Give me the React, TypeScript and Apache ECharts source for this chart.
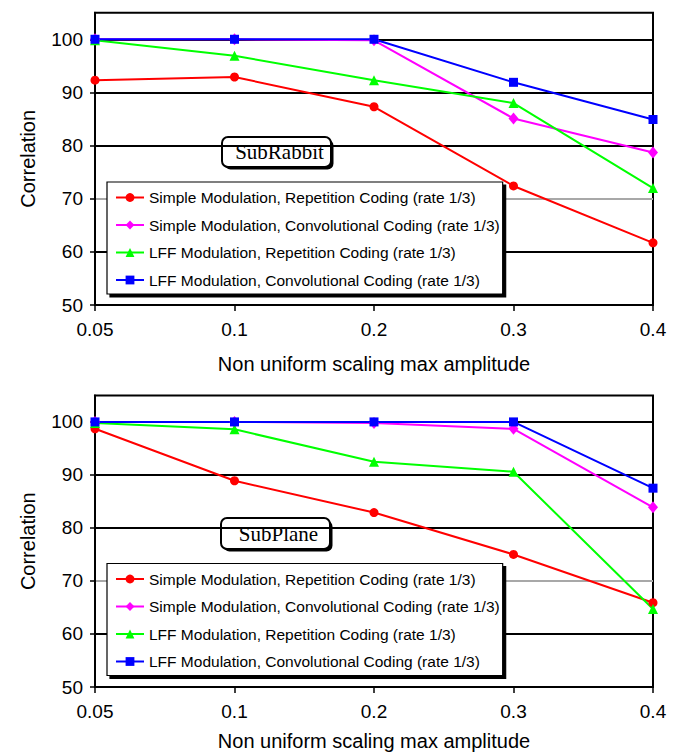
import React, { useEffect, useRef } from "react";
import * as echarts from "echarts";

const xCategories = ["0.05", "0.1", "0.2", "0.3", "0.4"];
const seriesNames = [
  "Simple Modulation, Repetition Coding (rate 1/3)",
  "Simple Modulation, Convolutional Coding (rate 1/3)",
  "LFF Modulation, Repetition Coding (rate 1/3)",
  "LFF Modulation, Convolutional Coding (rate 1/3)",
];
const yTickValues = [50, 60, 70, 80, 90, 100];

const rabbitSimpleRep = [92.3, 92.9, 87.3, 72.4, 61.7];
const rabbitSimpleConv = [100, 100, 99.8, 85.1, 78.7];
const rabbitLffRep = [99.8, 96.9, 92.3, 88.0, 72.0];
const rabbitLffConv = [100, 100, 100, 91.9, 84.9];

const planeSimpleRep = [98.7, 88.9, 82.9, 75.0, 65.9];
const planeSimpleConv = [100, 100, 99.8, 98.7, 83.9];
const planeLffRep = [99.8, 98.6, 92.5, 90.6, 64.7];
const planeLffConv = [100, 100, 100, 100, 87.5];

const colors = ["#ff0000", "#ff00ff", "#00ff00", "#0000ff"];
const symbols = ["circle", "diamond", "triangle", "rect"];
const symbolSizes = [9, [10, 12], 10, 9];

const SANS = "'Liberation Sans', Arial, sans-serif";
const SERIF = "'Liberation Serif', 'Times New Roman', serif";

function makeX(gridIndex: number, nameGap: number) {
  return {
    type: "category",
    gridIndex,
    data: xCategories,
    boundaryGap: false,
    name: "Non uniform scaling max amplitude",
    nameLocation: "middle",
    nameGap,
    nameTextStyle: { fontFamily: SANS, fontSize: 20, color: "#000" },
    axisLine: { show: true, lineStyle: { color: "#000", width: 2 } },
    axisTick: { show: true, length: 6, lineStyle: { color: "#000", width: 1.5 } },
    axisLabel: { fontFamily: SANS, fontSize: 19, color: "#000", margin: 15 },
    splitLine: { show: false },
  };
}

function makeY(gridIndex: number) {
  return {
    type: "value",
    gridIndex,
    min: 50,
    max: 105,
    interval: 10,
    name: "Correlation",
    nameLocation: "middle",
    nameRotate: 90,
    nameGap: 57,
    nameTextStyle: { fontFamily: SANS, fontSize: 20, color: "#000" },
    axisLine: { show: true, lineStyle: { color: "#000", width: 2 } },
    axisTick: {
      show: true,
      length: 5,
      customValues: yTickValues,
      lineStyle: { color: "#000", width: 1.5 },
    },
    axisLabel: {
      fontFamily: SANS,
      fontSize: 19,
      color: "#000",
      margin: 12,
      customValues: yTickValues,
    },
    splitLine: {
      show: true,
      lineStyle: {
        color: ["#000", "#000", "#a8a8a8", "#000", "#000", "#000", "#000"],
        width: 2,
      },
    },
  };
}

function makeSeries(idx: number, data: number[], gridIdx: number) {
  return {
    type: "line",
    name: seriesNames[idx],
    xAxisIndex: gridIdx,
    yAxisIndex: gridIdx,
    data,
    symbol: symbols[idx],
    symbolSize: symbolSizes[idx],
    lineStyle: { color: colors[idx], width: 2 },
    itemStyle: { color: colors[idx] },
  };
}

function makeLegend(top: number) {
  return {
    orient: "vertical",
    left: 107,
    top,
    data: seriesNames,
    itemWidth: 28,
    itemHeight: 11,
    itemGap: 11.5,
    padding: [7.5, 3, 6, 8],
    backgroundColor: "#fff",
    borderColor: "#000",
    borderWidth: 1.2,
    shadowColor: "#000",
    shadowBlur: 0,
    shadowOffsetX: 3,
    shadowOffsetY: 3,
    selectedMode: false,
    textStyle: { fontFamily: SANS, fontSize: 15.5, color: "#000" },
  };
}

function labelBox(x: number, y: number, w: number, h: number, text: string) {
  return {
    type: "group",
    x,
    y,
    z: 10,
    children: [
      {
        type: "rect",
        shape: { x: 2.5, y: 2.5, width: w, height: h, r: 6 },
        style: { fill: "#000" },
      },
      {
        type: "rect",
        shape: { x: 0, y: 0, width: w, height: h, r: 6 },
        style: { fill: "#fff", stroke: "#000", lineWidth: 2 },
      },
      {
        type: "text",
        x: w / 2 + 3,
        y: h / 2,
        style: {
          text,
          fontFamily: SERIF,
          fontSize: 21,
          fill: "#000",
          align: "center",
          verticalAlign: "middle",
        },
      },
    ],
  };
}

export default function App() {
  const ref = useRef<HTMLDivElement>(null);
  useEffect(() => {
    if (!ref.current) return;
    const chart = echarts.init(ref.current, null, { renderer: "svg" });
    chart.setOption({
      animation: false,
      backgroundColor: "#fff",
      grid: [
        { left: 95, right: 20, top: 12.7, bottom: 447, show: true, borderColor: "#000", borderWidth: 2 },
        { left: 95, right: 20, top: 395.4, bottom: 63.7, show: true, borderColor: "#000", borderWidth: 2 },
      ],
      xAxis: [makeX(0, 49), makeX(1, 44)],
      yAxis: [makeY(0), makeY(1)],
      legend: [makeLegend(182), makeLegend(563.5)],
      graphic: [
        labelBox(222, 137, 109, 30, "SubRabbit"),
        labelBox(221, 518, 109, 31, "SubPlane"),
      ],
      series: [
        makeSeries(0, rabbitSimpleRep, 0),
        makeSeries(1, rabbitSimpleConv, 0),
        makeSeries(2, rabbitLffRep, 0),
        makeSeries(3, rabbitLffConv, 0),
        makeSeries(0, planeSimpleRep, 1),
        makeSeries(1, planeSimpleConv, 1),
        makeSeries(2, planeLffRep, 1),
        makeSeries(3, planeLffConv, 1),
      ],
    });
    return () => chart.dispose();
  }, []);
  return (
    <div
      ref={ref}
      style={{ position: "fixed", left: 0, top: 0, width: 673, height: 752, background: "#fff" }}
    />
  );
}
